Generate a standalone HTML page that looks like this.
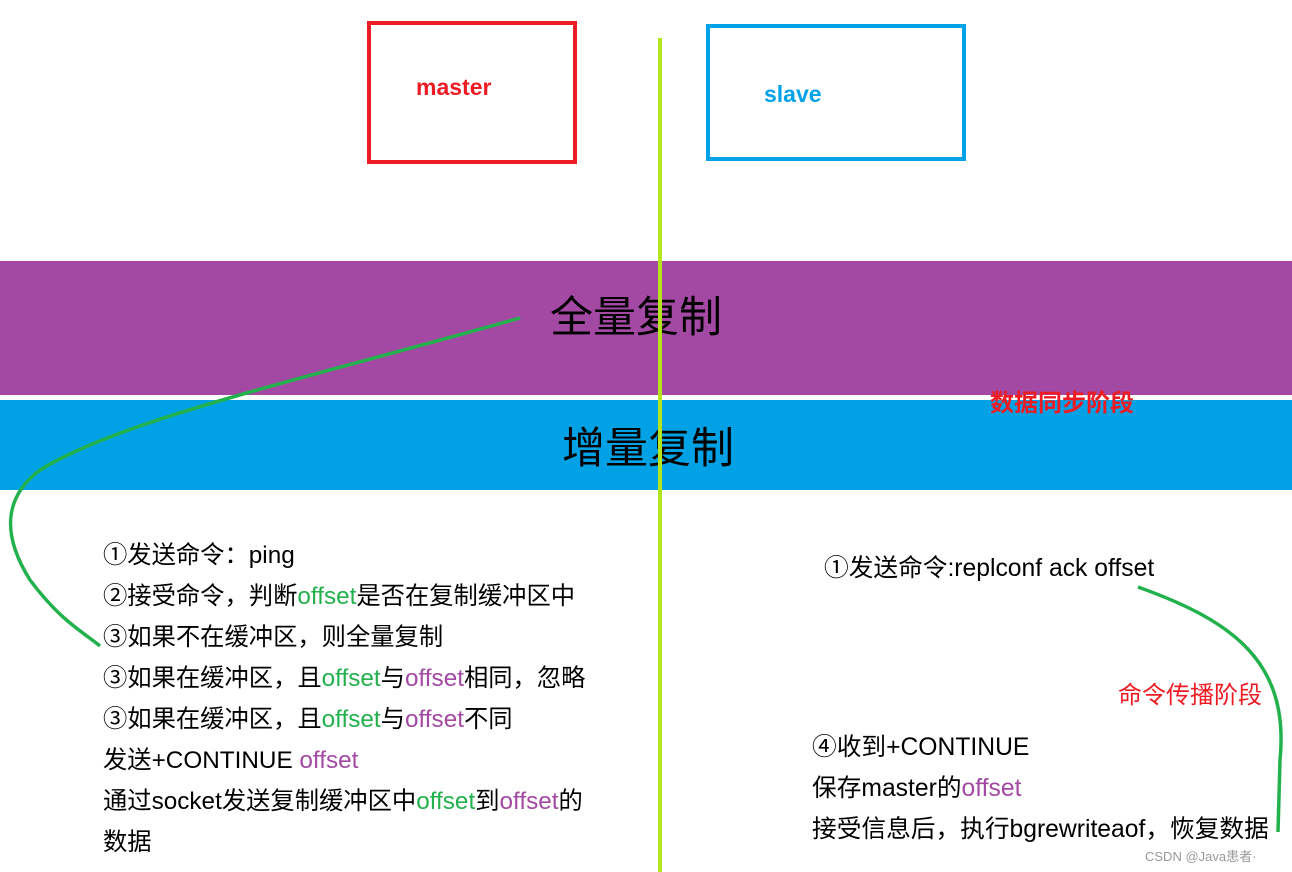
<!DOCTYPE html>
<html><head><meta charset="utf-8"><style>
body{margin:0;width:1292px;height:872px;background:#fff;position:relative;overflow:hidden;font-family:"Liberation Sans","Noto Sans CJK SC",sans-serif}
.a{position:absolute;white-space:nowrap}
.t{font-size:24.3px;color:#000;line-height:41px}
.r{font-size:24.7px;color:#000;line-height:41px}
.g{color:#22b14c}.p{color:#a349a4}
</style></head><body>
<div class="a" style="left:367px;top:21px;width:202px;height:135px;border:4px solid #ed1c24"></div>
<div class="a" style="left:416px;top:74px;font-size:23px;font-weight:bold;color:#ed1c24">master</div>
<div class="a" style="left:706px;top:24px;width:252px;height:129px;border:4px solid #00a2e8"></div>
<div class="a" style="left:764px;top:81px;font-size:23px;font-weight:bold;color:#00a2e8">slave</div>
<div class="a" style="left:0;top:261px;width:1292px;height:134px;background:#a349a4"></div>
<div class="a" style="left:0;top:400px;width:1292px;height:90px;background:#00a2e5"></div>
<div class="a" style="left:550px;top:283px;font-size:43px;color:#000">全量复制</div>
<div class="a" style="left:562px;top:414px;font-size:43px;color:#000">增量复制</div>
<div class="a" style="left:990px;top:383px;font-size:24px;font-weight:bold;color:#ed1c24">数据同步阶段</div>
<div class="a" style="left:658px;top:38px;width:4px;height:834px;background:#b5e61d"></div>
<svg class="a" style="left:0;top:0" width="1292" height="872">
<path d="M520 318 C300 380 120 420 40 470 C0 500 5 540 30 580 C60 620 80 630 100 646" fill="none" stroke="#22b14c" stroke-width="3.5"/>
<path d="M1138 587 C1230 620 1290 660 1280 760 L1278 832" fill="none" stroke="#22b14c" stroke-width="3.5"/>
</svg>
<div class="a t" style="left:103px;top:535px">①发送命令：ping<br>②接受命令，判断<span class="g">offset</span>是否在复制缓冲区中<br>③如果不在缓冲区，则全量复制<br>③如果在缓冲区，且<span class="g">offset</span>与<span class="p">offset</span>相同，忽略<br>③如果在缓冲区，且<span class="g">offset</span>与<span class="p">offset</span>不同<br>发送+CONTINUE <span class="p">offset</span><br>通过socket发送复制缓冲区中<span class="g">offset</span>到<span class="p">offset</span>的<br>数据</div>
<div class="a r" style="left:824px;top:548px">①发送命令:replconf ack offset</div>
<div class="a" style="left:1118px;top:675px;font-size:24px;color:#ed1c24">命令传播阶段</div>
<div class="a r" style="left:812px;top:727px">④收到+CONTINUE<br>保存master的<span class="p">offset</span><br>接受信息后，执行bgrewriteaof，恢复数据</div>
<div class="a" style="left:1145px;top:846px;font-size:13px;color:#999">CSDN @Java患者·</div>
</body></html>
